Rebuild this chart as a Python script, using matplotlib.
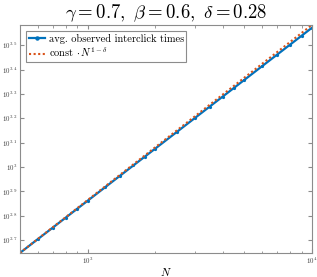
import numpy as np
import matplotlib
matplotlib.use('Agg')
import matplotlib.pyplot as plt
from matplotlib.ticker import FixedLocator, FixedFormatter, NullLocator

plt.rcParams['font.family'] = 'cmr10'
plt.rcParams['mathtext.fontset'] = 'cm'
plt.rcParams['axes.formatter.use_mathtext'] = True

# parameters shown in title
gamma, beta, delta = 0.7, 0.6, 0.28

N = [500, 600, 700, 800, 900, 1000, 1200, 1400, 1600, 1800, 2000, 2500,
     3000, 3500, 4000, 4500, 5000, 6000, 7000, 8000, 9000, 10000]
avg_times = [444, 505.5, 563.9, 620.2, 674.4, 726.7, 827.4, 923.3, 1015.2,
             1103.7, 1189.7, 1394.4, 1587.4, 1771.6, 1947.6, 2117.3, 2282.3,
             2598.8, 2899.2, 3187.7, 3466.4, 3735.8]

# reference power law, matched at first point
const = avg_times[0] / N[0] ** (1 - delta)
ref = [const * n ** (1 - delta) for n in N]

ytick_exp = [2.7, 2.8, 2.9, 3.0, 3.1, 3.2, 3.3, 3.4, 3.5]
ytick_lbl = ['$10^{2.7}$', '$10^{2.8}$', '$10^{2.9}$', '$10^{3}$', '$10^{3.1}$',
             '$10^{3.2}$', '$10^{3.3}$', '$10^{3.4}$', '$10^{3.5}$']

blue = '#0072BD'
orange = '#D95319'
gray = '0.55'

fig = plt.figure(figsize=(3.17, 2.77), dpi=100)
ax = fig.add_axes([0.063, 0.087, 0.921, 0.823])

ax.plot(N, avg_times, color=blue, lw=1.6, marker='o', ms=1.3,
        label='avg. observed interclick times')
ax.plot(N, ref, color=orange, lw=1.5, ls=(0, (1, 1.2)),
        label=r'const $\cdot\, N^{1-\delta}$')

ax.set_xscale('log')
ax.set_yscale('log')
ax.set_xlim(N[0], N[-1])
ax.set_ylim(ref[0], ref[-1])

ax.yaxis.set_major_locator(FixedLocator([10 ** e for e in ytick_exp]))
ax.yaxis.set_major_formatter(FixedFormatter(ytick_lbl))
ax.yaxis.set_minor_locator(NullLocator())

ax.tick_params(which='both', direction='in', top=True, right=True,
               color=gray, labelsize=5, labelcolor='0.25')
ax.tick_params(which='major', length=3)
ax.tick_params(which='minor', length=1.8)
ax.tick_params(axis='y', pad=2)
ax.tick_params(axis='x', pad=2)
for s in ax.spines.values():
    s.set_color(gray)
    s.set_linewidth(0.8)

ax.set_xlabel('$N$', fontsize=8, labelpad=0)
ax.set_title(r'$\gamma = 0.7,\ \beta = 0.6,\ \delta = 0.28$', fontsize=13.5, pad=5)

leg = ax.legend(loc='upper left', fontsize=7.5, fancybox=False, framealpha=1,
                edgecolor=gray, borderpad=0.25, handlelength=1.6,
                handletextpad=0.3, labelspacing=0.2, borderaxespad=0.6)
leg.get_frame().set_linewidth(0.8)
leg.get_lines()[0].set_markersize(2.2)

fig.savefig('out.png', dpi=100)
